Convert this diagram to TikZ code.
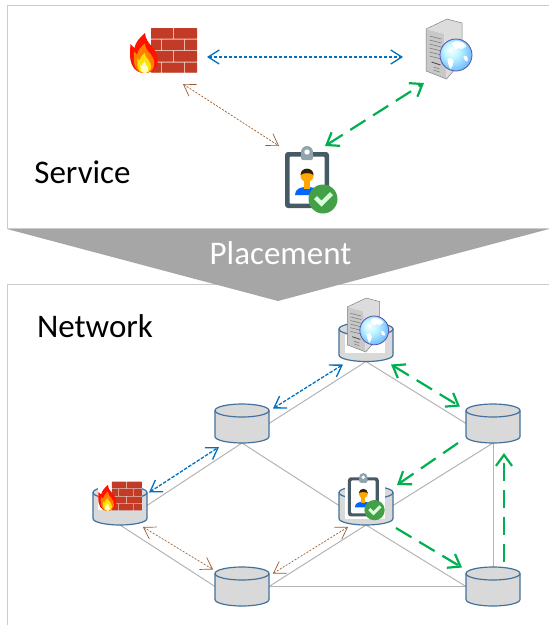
\documentclass[tikz,border=0pt]{standalone}
\usepackage{fontspec}
\setmainfont{Carlito}
\usetikzlibrary{arrows.meta}

\definecolor{framegray}{HTML}{CCCCCC}
\definecolor{funnelgray}{HTML}{A6A6A6}
\definecolor{linkgray}{HTML}{B4B4B4}
\definecolor{dbfill}{HTML}{D9D9D9}
\definecolor{dbline}{HTML}{41719C}
\definecolor{pathblue}{HTML}{0070C0}
\definecolor{pathbrown}{HTML}{9A5A30}
\definecolor{pathgreen}{HTML}{00B050}
\definecolor{brickred}{HTML}{C23B27}
\definecolor{brickgap}{HTML}{EBC9BE}
\definecolor{boardslate}{HTML}{455A64}
\definecolor{clipgray}{HTML}{90A4AE}
\definecolor{badgegreen}{HTML}{43A047}
\definecolor{towerlight}{HTML}{DCDCDC}
\definecolor{towermid}{HTML}{C8C8C8}

\pgfdeclareradialshading{globeglow}{\pgfpoint{-9bp}{9bp}}{color(0bp)=(white); color(12bp)=(blue!15!cyan!25!white); color(28bp)=(blue!45!cyan!55!white); color(40bp)=(blue!60!cyan!70!black); color(50bp)=(blue!60!cyan!60!black)}

\newcommand{\flameshape}{(0,0) .. controls (-11,0) and (-15,-10) .. (-14.5,-21) .. controls (-14.5,-25) and (-14,-27) .. (-14,-29) .. controls (-12,-27) and (-11,-26) .. (-10,-25) .. controls (-9,-31) and (-5,-35) .. (.5,-40) .. controls (1,-34) and (4,-30) .. (8,-26) .. controls (12,-21) and (14,-15) .. (13,-10) .. controls (12,-4) and (7,0) .. (0,0) -- cycle}

\begin{document}
\begin{tikzpicture}[x=1pt,y=-1pt,
    frameline/.style={draw=framegray, line width=1pt},
    bigtext/.style={font=\fontsize{33}{40}\selectfont, inner sep=0pt},
    db/.style={rectangle, minimum width=54pt, minimum height=39pt, inner sep=0pt, outer sep=0pt},
    link/.style={draw=linkgray, line width=1pt},
    bluepath/.style={draw=pathblue, line width=1.3pt, dash pattern=on 3.5pt off 1.5pt, {Straight Barb[length=11pt,width=14pt]}-{Straight Barb[length=11pt,width=14pt]}},
    brownpath/.style={draw=pathbrown, line width=.7pt, dash pattern=on 2pt off 1.5pt, {Straight Barb[length=11pt,width=14pt]}-{Straight Barb[length=11pt,width=14pt]}},
    greenpath/.style={draw=pathgreen, line width=2.2pt, dash pattern=on 18pt off 9pt},
    greenboth/.style={greenpath, {Straight Barb[length=11pt,width=16pt]}-{Straight Barb[length=11pt,width=16pt]}},
    greenone/.style={greenpath, -{Straight Barb[length=11pt,width=16pt]}},
    patch/.style={fill=white},
    brick/.style={fill=brickred, rounded corners=.5pt},
    pics/drum/.style={code={
      \draw[fill=dbfill, draw=dbline, line width=1.2pt] (-27,-13) -- (-27,13) arc (180:0:27 and 6.5) -- (27,-13);
      \draw[fill=dbfill, draw=dbline, line width=1.2pt] (0,-13) ellipse (27 and 6.5);
    }},
    pics/firewall/.style={code={
      \fill[brickgap] (-12.5,-23) rectangle (33.5,21.5);
      \fill[brick] (-12.5,-23) rectangle (9.5,-12.5);
      \fill[brick] (10.5,-23) rectangle (33.5,-12.5);
      \fill[brick] (-12.5,-11.5) rectangle (-2.5,-1);
      \fill[brick] (-1.5,-11.5) rectangle (20.5,-1);
      \fill[brick] (21.5,-11.5) rectangle (33.5,-1);
      \fill[brick] (-12.5,0) rectangle (9.5,10.5);
      \fill[brick] (10.5,0) rectangle (33.5,10.5);
      \fill[brick] (-12.5,11.5) rectangle (-2.5,21.5);
      \fill[brick] (-1.5,11.5) rectangle (20.5,21.5);
      \fill[brick] (21.5,11.5) rectangle (33.5,21.5);
      \begin{scope}[shift={(-19,22)}]
        \fill[red!85!orange] \flameshape;
        \begin{scope}[scale=.74]\fill[orange] \flameshape;\end{scope}
        \begin{scope}[scale=.5]\fill[yellow!85!orange] \flameshape;\end{scope}
        \begin{scope}[scale=.28]\fill[yellow!20] \flameshape;\end{scope}
      \end{scope}
    }},
    pics/webserver/.style={code={
      \fill[towerlight] (-22.5,-20) -- (-1.5,-30) -- (13.5,-26) -- (-4.5,-15) -- cycle;
      \fill[towermid] (-22.5,-20) -- (-4.5,-15) -- (-2,30) -- (-22.5,22) -- cycle;
      \fill[towerlight] (-4.5,-15) -- (13.5,-26) -- (13.5,12) -- (-2,30) -- cycle;
      \draw[gray, line width=.5pt] (-22.5,-20) -- (-1.5,-30) -- (13.5,-26) -- (13.5,12) -- (-2,30) -- (-22.5,22) -- cycle;
      \draw[gray, line width=.6pt] (-19,-13) -- (-7,-10) (-19,-9) -- (-7,-6) (-19,-5) -- (-7,-2) (-19,-1) -- (-7,2) (-19,3) -- (-7,6) (-19,7) -- (-7,10);
      \draw[black!70, line width=.8pt] (-17,13) -- (-8,16);
      \draw[gray, line width=.6pt] (-15,18) -- (-9,20) (-15,21) -- (-9,23);
      \shade[shading=globeglow] (7.5,6) circle (16);
      \draw[blue!35!gray, line width=.8pt] (7.5,6) circle (16);
      \fill[white] (-1,10) .. controls (2,8) and (5,10) .. (5,13) .. controls (5,16) and (3,19) .. (2,20) .. controls (0,17) and (-1,13) .. (-1,10) -- cycle;
      \fill[white] (3.5,-6) .. controls (7,-9) and (13,-9) .. (18,-3) .. controls (15,0) and (12,1) .. (10,-1) .. controls (8,2) and (5,0) .. (3.5,-6) -- cycle;
      \fill[white] (15,7) .. controls (18,6) and (20,8) .. (19,12) .. controls (17,13) and (15,10) .. (15,7) -- cycle;
    }},
    pics/badge/.style={code={
      \fill[boardslate, rounded corners=3pt] (-26.5,-27.5) rectangle (17.5,28.5);
      \fill[white, rounded corners=1pt] (-22,-23) rectangle (13,24);
      \fill[clipgray, rounded corners=2pt] (-10.5,-27.5) rectangle (1.5,-19.5);
      \fill[clipgray] (-4.5,-27.5) circle (6);
      \fill[white] (-4.5,-27.5) circle (2.7);
      \fill[blue!60!cyan] (-16.5,15.5) .. controls (-16.5,9) and (-11,7.5) .. (-4.5,7.5) .. controls (2,7.5) and (8,9) .. (8,15.5) -- cycle;
      \fill[orange!70!yellow] (-7.5,0) rectangle (-1.5,9);
      \fill[orange!70!yellow] (-4.5,-4) circle (6.5);
      \fill[black!75!brown] (-11,-4.5) .. controls (-11,-13) and (2,-13) .. (2,-4.5) .. controls (0,-7) and (-9,-7) .. (-11,-4.5) -- cycle;
      \fill[badgegreen] (11.5,19.5) circle (14.5);
      \fill[green!15!white] (2.5,19.5) -- (5.5,16.5) -- (10,21) -- (18.5,12.5) -- (21.5,15.5) -- (10,27) -- cycle;
    }}]

    \useasboundingbox (0,0) rectangle (549,625);

    % panels
    \draw[frameline] (549,5) -- (7,5) -- (7,228) -- (549,228);
    \draw[frameline] (549,284) -- (7,284) -- (7,625);
    \fill[funnelgray] (7,229) -- (549,229) -- (278,301) -- cycle;

    \node[bigtext] (service) at (82.5,172) {Service};
    \node[bigtext] (network) at (95,326) {Network};
    \node[bigtext, text=white] (placement) at (280.5,253) {Placement};

    % service icons
    \coordinate (svcfw) at (163.5,51);
    \coordinate (svcweb) at (448.5,49);
    \coordinate (svcid) at (311.5,179.5);
    \pic at (svcfw) {firewall};
    \pic at (svcweb) {webserver};
    \pic at (svcid) {badge};

    \draw[bluepath] ([shift={(43.5,6)}]svcfw) -- ([shift={(-45.5,8)}]svcweb);
    \draw[brownpath] ([shift={(19.5,33)}]svcfw) -- ([shift={(-32.5,-33.5)}]svcid);
    \draw[greenboth] ([shift={(13.5,-33.5)}]svcid) -- ([shift={(-24.5,34)}]svcweb);

    % network
    \node[db] (nettop) at (366,342) {};
    \node[db] (netleft) at (242,423.5) {};
    \node[db] (netright) at (493,423.5) {};
    \node[db] (netfw) at (120,505.5) {};
    \node[db] (netmid) at (366,505.5) {};
    \node[db] (netlow) at (242,586.5) {};
    \node[db] (netcorner) at (493,586.5) {};

    \draw[link] (nettop.south) -- (netleft.east);
    \draw[link] (nettop.south) -- (netright.west);
    \draw[link] (netleft.south) -- (netfw.east);
    \draw[link] (netleft.south) -- (netmid.west);
    \draw[link] (netright.south) -- (netmid.east);
    \draw[link] (netright.south) -- (netcorner.north);
    \draw[link] (netfw.south) -- (netlow.west);
    \draw[link] (netmid.south) -- (netlow.east);
    \draw[link] (netmid.south) -- (netcorner.west);
    \draw[link] (netlow.east) -- (netcorner.west);

    \pic at (nettop) {drum};
    \pic at (netleft) {drum};
    \pic at (netright) {drum};
    \pic at (netfw) {drum};
    \pic at (netmid) {drum};
    \pic at (netlow) {drum};
    \pic at (netcorner) {drum};

    \fill[patch] (98,484) rectangle (142,510);
    \fill[patch] (345,335) rectangle (385,353);
    \fill[patch] (345,480) rectangle (385,519);
    \pic[scale=.65] at (120,496.5) {firewall};
    \pic[scale=.9] at (367.5,325) {webserver};
    \pic[scale=.7] at (366.5,496.5) {badge};

    \draw[bluepath] ([shift={(4,-15)}]netleft.east) -- ([shift={(-23,3)}]nettop.south);
    \draw[bluepath] ([shift={(2,-13)}]netfw.east) -- ([shift={(-23,4)}]netleft.south);
    \draw[brownpath] ([shift={(23,2)}]netfw.south) -- ([shift={(-2,-17)}]netlow.west);
    \draw[brownpath] ([shift={(4,-13)}]netlow.east) -- ([shift={(-18,2)}]netmid.south);
    \draw[greenboth] ([shift={(25,3)}]nettop.south) -- ([shift={(-6,-17)}]netright.west);
    \draw[greenone] ([shift={(-35,0)}]netright.south) -- ([shift={(31,-40)}]netmid.south);
    \draw[greenone] ([shift={(30,3)}]netmid.south) -- ([shift={(-4,-19)}]netcorner.west);
    \draw[greenone] ([shift={(11,-5)}]netcorner.north) -- ([shift={(11,10)}]netright.south);
\end{tikzpicture}
\end{document}
